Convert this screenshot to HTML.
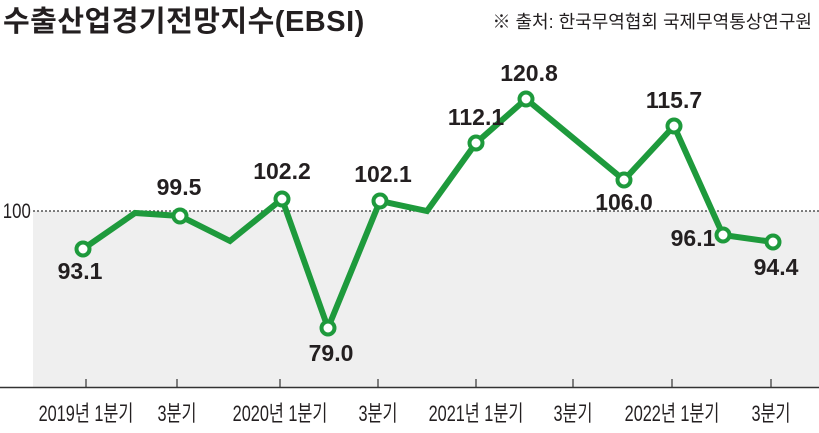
<!DOCTYPE html>
<html><head><meta charset="utf-8"><style>
html,body{margin:0;padding:0;background:#fff;width:819px;height:433px;overflow:hidden}
svg text{font-family:"Liberation Sans","Noto Sans CJK KR",sans-serif}
</style></head><body>
<svg width="819" height="433" viewBox="0 0 819 433" xmlns="http://www.w3.org/2000/svg">
<rect x="33" y="211" width="786" height="176" fill="#efefef"/>
<line x1="33" y1="211" x2="819" y2="211" stroke="#333" stroke-width="1.2" stroke-dasharray="2,2"/>
<line x1="0" y1="387.5" x2="819" y2="387.5" stroke="#333" stroke-width="1.5"/>
<g stroke="#333" stroke-width="1.2">
<line x1="86" y1="379" x2="86" y2="387"/><line x1="177" y1="379" x2="177" y2="387"/>
<line x1="280" y1="379" x2="280" y2="387"/><line x1="378" y1="379" x2="378" y2="387"/>
<line x1="476" y1="379" x2="476" y2="387"/><line x1="573" y1="379" x2="573" y2="387"/>
<line x1="672" y1="379" x2="672" y2="387"/><line x1="771" y1="379" x2="771" y2="387"/>
</g>
<g font-size="22" fill="#231f20" text-anchor="middle">
<text x="3.5" y="218" text-anchor="start" transform="scale(0.8,1)" font-size="21">100</text>
<g transform="scale(0.74,1)">
<text x="116.2" y="421">2019년 1분기</text>
<text x="239.2" y="421">3분기</text>
<text x="378.4" y="421">2020년 1분기</text>
<text x="510.8" y="421">3분기</text>
<text x="643.2" y="421">2021년 1분기</text>
<text x="774.3" y="421">3분기</text>
<text x="908.1" y="421">2022년 1분기</text>
<text x="1041.9" y="421">3분기</text>
</g>
</g>
<polyline fill="none" stroke="#1e9a3c" stroke-width="6" stroke-linejoin="miter" points="83,249 135,213 180,216 230,241 282,199 328,328 380,201 427,211 476,143 526,99 624,180 674,126 723,235 773,242"/>
<g fill="#fff" stroke="#1e9a3c" stroke-width="4">
<circle cx="83" cy="249" r="6.5"/><circle cx="180" cy="216" r="6.5"/><circle cx="282" cy="199" r="6.5"/>
<circle cx="328" cy="328" r="6.5"/><circle cx="380" cy="201" r="6.5"/><circle cx="476" cy="143" r="6.5"/>
<circle cx="526" cy="99" r="6.5"/><circle cx="624" cy="180" r="6.5"/><circle cx="674" cy="126" r="6.5"/>
<circle cx="723" cy="235" r="6.5"/><circle cx="773" cy="242" r="6.5"/>
</g>
<g font-size="23" font-weight="bold" fill="#231f20" text-anchor="middle">
<text x="80" y="279">93.1</text>
<text x="179" y="195">99.5</text>
<text x="282" y="179">102.2</text>
<text x="331" y="361">79.0</text>
<text x="383" y="182">102.1</text>
<text x="476" y="125">112.1</text>
<text x="529" y="81">120.8</text>
<text x="624" y="210">106.0</text>
<text x="674" y="108">115.7</text>
<text x="693" y="246">96.1</text>
<text x="776" y="275">94.4</text>
</g>
<text x="3" y="31" font-size="29" font-weight="bold" fill="#231f20" letter-spacing="0.5">수출산업경기전망지수(EBSI)</text>
<text x="812" y="28" font-size="18" fill="#231f20" text-anchor="end">※ 출처: 한국무역협회 국제무역통상연구원</text>
</svg>
</body></html>
